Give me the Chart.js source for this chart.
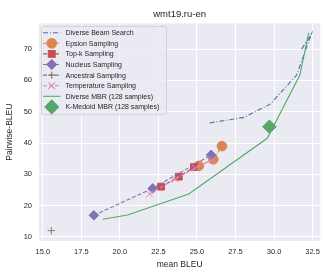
<!DOCTYPE html>
<html>
<head>
<meta charset="utf-8">
<script src="https://cdn.jsdelivr.net/npm/chart.js@4"></script>
<style>
  html, body { margin: 0; padding: 0; background: #fff; }
  #wrap { width: 326px; height: 273px; }
</style>
</head>
<body>
<div id="wrap"><canvas id="chart" width="326" height="273"></canvas></div>
<script>
// values (mean BLEU, pairwise BLEU)
const xTicks = [15.0, 17.5, 20.0, 22.5, 25.0, 27.5, 30.0, 32.5];
const yTicks = [10, 20, 30, 40, 50, 60, 70];

const diverseBeam = [[25.82, 46.4], [28.07, 48.2], [29.77, 52.5], [31.47, 61.7], [32.42, 74.8], [31.78, 69.9]];
const epsilon = [[25.12, 32.7], [26.06, 34.8], [26.62, 39.0]];
const topK = [[22.67, 26.05], [23.82, 29.25], [24.8, 32.3]];
const nucleus = [[18.31, 16.9], [22.13, 25.5], [25.92, 36.2]];
const ancestral = [[15.55, 12.0]];
const temperature = [[21.92, 23.7], [23.6, 28.5], [24.9, 32.0], [26.0, 34.6]];
const diverseMbr = [[18.88, 15.65], [20.49, 17.0], [24.47, 23.7], [29.56, 41.5], [31.68, 61.7], [32.25, 75.2]];
const kMedoid = [[29.7, 45.2]];

const FONT = 'Liberation Sans, Arial, sans-serif';

function pts(arr) {
    return arr.map(p => ({ x: p[0], y: p[1] }));
}

function series(label, data, color, opts) {
    return Object.assign({
        label: label,
        data: pts(data),
        borderColor: color,
        backgroundColor: color,
        pointBorderColor: color,
        pointBackgroundColor: color,
        borderWidth: 1.1,
        borderDash: [4, 2],
        showLine: true,
        pointStyle: 'circle',
        pointRadius: 0,
        pointBorderWidth: 1,
        pointHoverRadius: 0
    }, opts);
}

const datasets = [
    series('Diverse Beam Search', diverseBeam, '#4c72b0', { borderDash: [5, 2, 1, 2] }),
    series('Epsion Sampling', epsilon, '#dd8452', { pointRadius: 4.8 }),
    series('Top-k Sampling', topK, '#c44e52', { pointStyle: 'rect', pointRadius: 4.8 }),
    series('Nucleus Sampling', nucleus, '#8172b3', { pointStyle: 'rectRot', pointRadius: 4.8 }),
    series('Ancestral Sampling', ancestral, '#937860', { pointStyle: 'cross', pointRadius: 3.6, pointBorderWidth: 1 }),
    series('Temperature Sampling', temperature, '#da8bc3', { pointStyle: 'crossRot', pointRadius: 4.8, pointBorderWidth: 1 }),
    series('Diverse MBR (128 samples)', diverseMbr, '#55a868', { borderDash: [] }),
    series('K-Medoid MBR (128 samples)', kMedoid, '#55a868', { showLine: false, pointStyle: 'rectRot', pointRadius: 6.8 })
];
// matplotlib draws later series on top
datasets.forEach((d, i) => { d.order = datasets.length - i; });

const plotBackground = {
    id: 'plotBackground',
    beforeDraw(chart) {
        const { ctx, chartArea: a } = chart;
        ctx.save();
        ctx.fillStyle = '#eaeaf2';
        ctx.fillRect(a.left, a.top, a.right - a.left, a.bottom - a.top);
        ctx.restore();
    }
};

const insideLegend = {
    id: 'insideLegend',
    afterDraw(chart) {
        const ctx = chart.ctx;
        const a = chart.chartArea;
        const x0 = a.left + 2.5, y0 = a.top + 3, w = 125, rowH = 10.6;
        const h = rowH * chart.data.datasets.length + 3.5;
        ctx.save();
        ctx.beginPath();
        ctx.roundRect(x0, y0, w, h, 2);
        ctx.fillStyle = 'rgba(234,234,242,0.8)';
        ctx.fill();
        ctx.strokeStyle = 'rgba(204,204,204,0.8)';
        ctx.lineWidth = 1;
        ctx.stroke();
        ctx.font = '7px ' + FONT;
        ctx.textBaseline = 'middle';
        chart.data.datasets.forEach((d, i) => {
            const cy = y0 + 6.3 + i * rowH;
            const hx0 = x0 + 1.5, hx1 = x0 + 19;
            const cx = (hx0 + hx1) / 2;
            if (d.showLine) {
                ctx.beginPath();
                ctx.setLineDash(d.borderDash || []);
                ctx.strokeStyle = d.borderColor;
                ctx.lineWidth = d.borderWidth;
                ctx.moveTo(hx0, cy);
                ctx.lineTo(hx1, cy);
                ctx.stroke();
                ctx.setLineDash([]);
            }
            if (d.pointRadius > 0) {
                ctx.fillStyle = d.pointBackgroundColor;
                ctx.strokeStyle = d.pointBorderColor;
                Chart.helpers.drawPoint(ctx, {
                    pointStyle: d.pointStyle,
                    radius: d.pointRadius,
                    rotation: 0,
                    borderWidth: d.pointBorderWidth
                }, cx, cy);
            }
            ctx.fillStyle = '#262626';
            ctx.fillText(d.label, x0 + 24, cy + 0.5);
        });
        ctx.restore();
    }
};

new Chart(document.getElementById('chart'), {
    type: 'scatter',
    data: { datasets: datasets },
    plugins: [plotBackground, insideLegend],
    options: {
        responsive: false,
        animation: false,
        // the layout keeps ~6px spare on the right; the reference plot runs to the edge
        layout: { autoPadding: false, padding: { left: 0, top: 0, bottom: 0, right: -5.5 } },
        plugins: {
            legend: { display: false },
            tooltip: { enabled: false },
            title: {
                display: true,
                text: 'wmt19.ru-en',
                fullSize: false,
                color: '#262626',
                font: { family: FONT, size: 9.5, weight: 'normal' },
                padding: { top: 9, bottom: 3 }
            }
        },
        scales: {
            x: {
                type: 'linear',
                min: 14.75,
                max: 33.0,
                afterBuildTicks: s => { s.ticks = xTicks.map(v => ({ value: v })); },
                afterFit: s => { s.height = 32; },
                grid: { color: '#ffffff', lineWidth: 1, drawTicks: false },
                border: { display: false },
                ticks: {
                    color: '#262626',
                    padding: 6,
                    maxRotation: 0,
                    font: { family: FONT, size: 7.5 },
                    callback: v => v.toFixed(1)
                },
                title: {
                    display: true,
                    text: 'mean BLEU',
                    color: '#262626',
                    font: { family: FONT, size: 8.5 },
                    padding: { top: 0, bottom: 3.5 }
                }
            },
            y: {
                type: 'linear',
                min: 8.7,
                max: 78.2,
                afterBuildTicks: s => { s.ticks = yTicks.map(v => ({ value: v })); },
                afterFit: s => { s.width = 39; },
                grid: { color: '#ffffff', lineWidth: 1, drawTicks: false },
                border: { display: false },
                ticks: {
                    color: '#262626',
                    padding: 7,
                    font: { family: FONT, size: 7.5 },
                    callback: v => String(v)
                },
                title: {
                    display: true,
                    text: 'Pairwise-BLEU',
                    color: '#262626',
                    font: { family: FONT, size: 8.5 },
                    padding: { top: 5, bottom: 0 }
                }
            }
        }
    }
});
</script>
</body>
</html>
